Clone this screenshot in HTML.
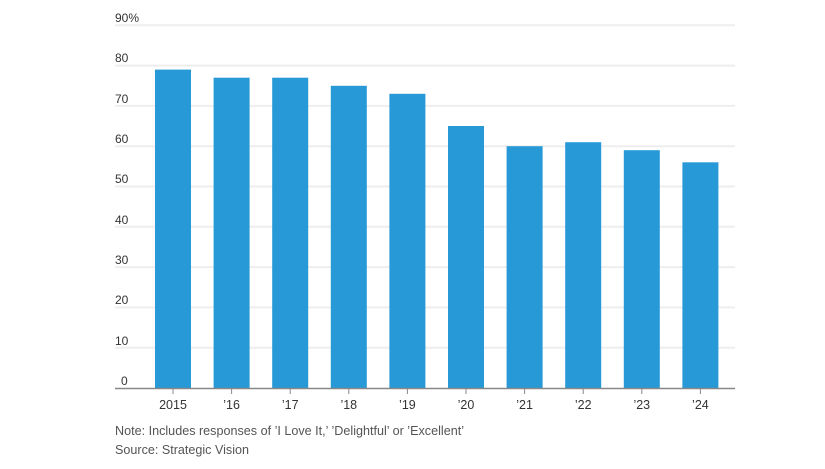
<!DOCTYPE html>
<html><head><style>
body{margin:0;background:#fff;width:825px;height:464px;overflow:hidden;font-family:"Liberation Sans",sans-serif;}
</style></head><body>
<svg width="825" height="464" xmlns="http://www.w3.org/2000/svg" font-family="Liberation Sans, sans-serif">
<g stroke="#eeeeee" stroke-width="2">
<line x1="115" x2="735" y1="25.3" y2="25.3"/>
<line x1="115" x2="735" y1="65.6" y2="65.6"/>
<line x1="115" x2="735" y1="105.9" y2="105.9"/>
<line x1="115" x2="735" y1="146.2" y2="146.2"/>
<line x1="115" x2="735" y1="186.5" y2="186.5"/>
<line x1="115" x2="735" y1="226.8" y2="226.8"/>
<line x1="115" x2="735" y1="267.1" y2="267.1"/>
<line x1="115" x2="735" y1="307.4" y2="307.4"/>
<line x1="115" x2="735" y1="347.7" y2="347.7"/>
</g>
<g font-size="12" fill="#333">
<text x="115" y="22">90%</text>
<text x="115" y="62">80</text>
<text x="115" y="103">70</text>
<text x="115" y="143">60</text>
<text x="115" y="183">50</text>
<text x="115" y="224">40</text>
<text x="115" y="264">30</text>
<text x="115" y="304">20</text>
<text x="115" y="345">10</text>
<text x="121" y="385">0</text>
</g>
<g fill="#2699d6">
<rect x="155" y="69.6" width="36" height="318.4"/>
<rect x="213.6" y="77.7" width="36" height="310.3"/>
<rect x="272.2" y="77.7" width="36" height="310.3"/>
<rect x="330.8" y="85.8" width="36" height="302.2"/>
<rect x="389.4" y="93.8" width="36" height="294.2"/>
<rect x="448" y="126" width="36" height="262"/>
<rect x="506.6" y="146.2" width="36" height="241.8"/>
<rect x="565.2" y="142.2" width="36" height="245.8"/>
<rect x="623.8" y="150.2" width="36" height="237.8"/>
<rect x="682.4" y="162.3" width="36" height="225.7"/>
</g>
<line x1="115" x2="735" y1="388.5" y2="388.5" stroke="#888" stroke-width="1.5"/>
<g stroke="#888" stroke-width="1">
<line x1="173" x2="173" y1="389" y2="394"/><line x1="231.6" x2="231.6" y1="389" y2="394"/><line x1="290.2" x2="290.2" y1="389" y2="394"/><line x1="348.8" x2="348.8" y1="389" y2="394"/><line x1="407.4" x2="407.4" y1="389" y2="394"/><line x1="466" x2="466" y1="389" y2="394"/><line x1="524.6" x2="524.6" y1="389" y2="394"/><line x1="583.2" x2="583.2" y1="389" y2="394"/><line x1="641.8" x2="641.8" y1="389" y2="394"/><line x1="700.4" x2="700.4" y1="389" y2="394"/>
</g>
<g font-size="12.5" fill="#333" text-anchor="middle">
<text x="173" y="409">2015</text><text x="231.6" y="409">’16</text><text x="290.2" y="409">’17</text><text x="348.8" y="409">’18</text><text x="407.4" y="409">’19</text><text x="466" y="409">’20</text><text x="524.6" y="409">’21</text><text x="583.2" y="409">’22</text><text x="641.8" y="409">’23</text><text x="700.4" y="409">’24</text>
</g>
<g font-size="12.5" fill="#555">
<text x="115" y="435" textLength="349" lengthAdjust="spacingAndGlyphs">Note: Includes responses of ’I Love It,’ ’Delightful’ or ’Excellent’</text>
<text x="115" y="454" textLength="134" lengthAdjust="spacingAndGlyphs">Source: Strategic Vision</text>
</g>
</svg>
</body></html>
